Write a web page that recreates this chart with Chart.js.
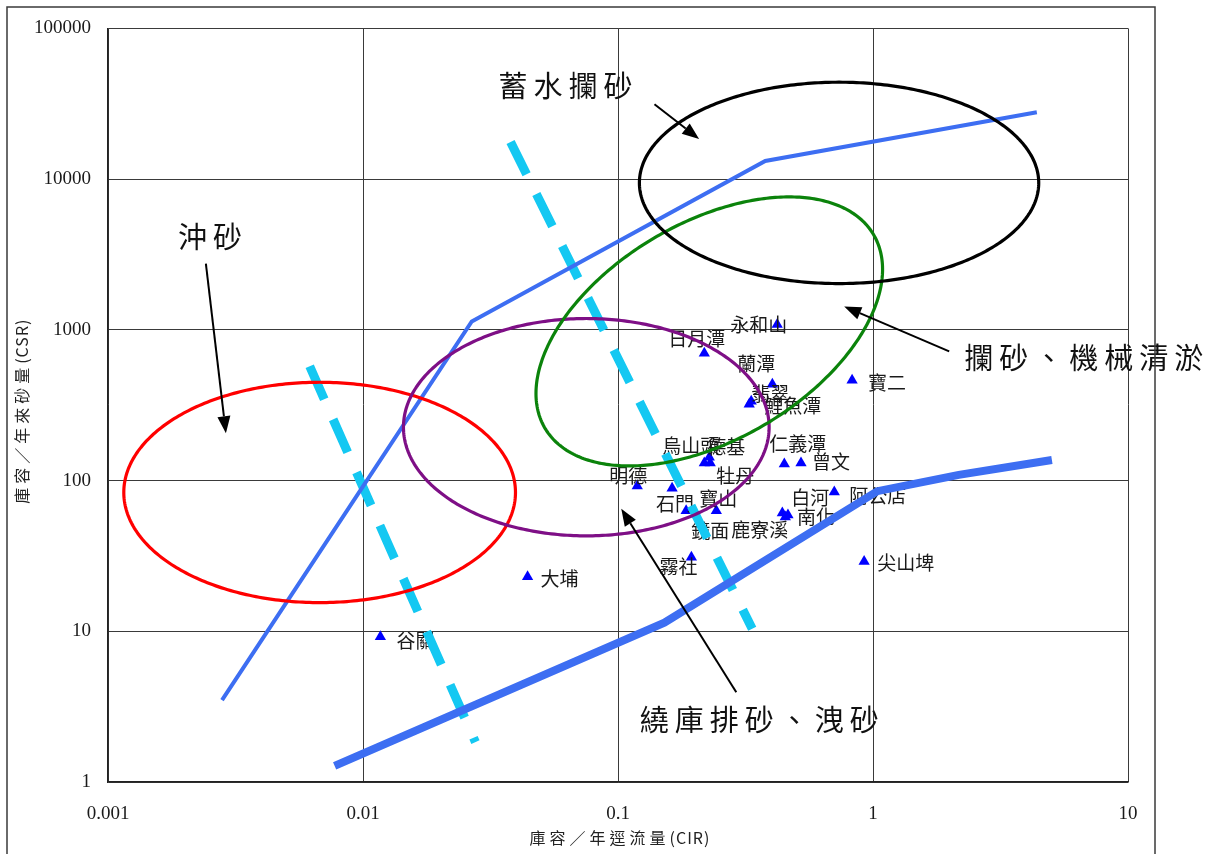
<!DOCTYPE html>
<html>
<head>
<meta charset="utf-8">
<script src="https://cdn.jsdelivr.net/npm/chart.js@4.4.0/dist/chart.umd.min.js"></script>
<style>
  html, body { margin: 0; padding: 0; background: #ffffff; }
  #wrap { width: 1219px; height: 854px; position: relative; }
</style>
</head>
<body>
<div id="wrap"><canvas id="c" width="1219" height="854"></canvas></div>
<script>
// Reservoirs: capacity / annual runoff (CIR) and capacity / annual sediment inflow (CSR)
const reservoirNames = ['谷關','大埔','明德','石門','鏡面','寶山','霧社','烏山頭','德基','牡丹','仁義潭','曾文','白河','南化','鹿寮溪','阿公店','尖山埤','寶二','日月潭','永和山','蘭潭','翡翠','鯉魚潭'];
const reservoirCIR  = [0.0117, 0.0442, 0.119, 0.163, 0.185, 0.243, 0.194, 0.218, 0.228, 0.230, 0.449, 0.522, 0.441, 0.464, 0.453, 0.705, 0.923, 0.828, 0.218, 0.421, 0.403, 0.333, 0.327];
const reservoirCSR  = [9.2, 23, 92, 89, 63, 63, 31, 131, 143, 131, 129, 131, 61, 59, 57.4, 84, 29, 463, 698, 1086, 435, 336, 321];

// Name placement relative to each marker (pixels: left edge, vertical centre)
const labelDx = [16, 13, -28, -16, 5, -17, -32, -42, -2, 6, -15, 11, 9, 9, -54, 15, 13, 16, -36, -47, -35, 0, 15];
const labelDy = [4, 2, -10, 16, 20, -12, 10, -17, -10, 13, -20, -1, -15, 2, 13, 4, 1, 3, -15, 0, -21, -7, 2];

// Axis ticks
const xTickValues = [0.001, 0.01, 0.1, 1, 10];
const xTickLabels = ['0.001', '0.01', '0.1', '1', '10'];
const yTickValues = [1, 10, 100, 1000, 10000, 100000];
const yTickLabels = ['1', '10', '100', '1000', '10000', '100000'];

// Envelope lines
const upperEnvX = [0.0028, 0.0267, 0.378, 4.39];
const upperEnvY = [3.49, 1137, 13190, 27800];
const lowerEnvX = [0.00774, 0.152, 1.04, 2.17, 5.03];
const lowerEnvY = [1.28, 11.4, 85, 109, 137];

// Dashed divider lines
const dividerAX = [0.00618, 0.0276];
const dividerAY = [573, 1.84];
const dividerBX = [0.0379, 0.336];
const dividerBY = [17600, 10.4];

// Strategy zones (ellipses): centre and two semi-axis vectors in decades (log10 units)
const zoneCenterX = [0.00676, 0.0751, 0.228, 0.736];
const zoneCenterY = [83.4, 226, 976, 9440];
const zoneAxisA   = [[0.768, 0], [0.717, 0], [0.644, 0.643], [0.783, 0]];
const zoneAxisB   = [[0, 0.731], [0, 0.721], [0.217, -0.619], [0, 0.668]];
const zoneColors  = ['#ff0000', '#7e0f86', '#0b830b', '#000000'];

// Callout texts and their arrows
const calloutTexts = ['沖砂', '繞庫排砂、洩砂', '攔砂、機械清淤', '蓄水攔砂'];
const calloutX     = [0.00251, 0.358, 6.71, 0.0622];
const calloutY     = [4150, 2.57, 647, 41300];
const arrowFromX   = [0.00242, 0.291, 1.99, 0.139];
const arrowFromY   = [2750, 3.94, 720, 31400];
const arrowToX     = [0.00290, 0.103, 0.771, 0.208];
const arrowToY     = [206, 64.9, 1428, 18450];

// Axis titles: spaced CJK part followed by the abbreviation
const xTitleParts = ['庫容／年逕流量', '(CIR)'];
const yTitleParts = ['庫容／年來砂量', '(CSR)'];

const CJK = '"Noto Sans CJK TC", "Noto Sans CJK JP", sans-serif';
const SERIF = '"Liberation Serif", "DejaVu Serif", serif';

const toPoints = (xs, ys) => xs.map((x, i) => ({ x: x, y: ys[i] }));

const labelPlugin = {
  id: 'reservoirLabels',
  afterDatasetDraw(chart, args) {
    if (args.index !== 0) return;
    const ctx = chart.ctx;
    const meta = chart.getDatasetMeta(0);
    ctx.save();
    ctx.font = '19px ' + CJK;
    ctx.fillStyle = '#1a1a1a';
    ctx.textAlign = 'left';
    ctx.textBaseline = 'middle';
    meta.data.forEach((el, i) => {
      ctx.fillText(reservoirNames[i], el.x + labelDx[i], el.y + labelDy[i]);
    });
    ctx.restore();
  }
};

function drawArrow(ctx, x1, y1, x2, y2) {
  const ang = Math.atan2(y2 - y1, x2 - x1);
  const len = 17, half = 6.5;
  const bx = x2 - Math.cos(ang) * len, by = y2 - Math.sin(ang) * len;
  ctx.beginPath();
  ctx.moveTo(x1, y1);
  ctx.lineTo(bx, by);
  ctx.stroke();
  ctx.beginPath();
  ctx.moveTo(x2, y2);
  ctx.lineTo(bx - Math.sin(ang) * half, by + Math.cos(ang) * half);
  ctx.lineTo(bx + Math.sin(ang) * half, by - Math.cos(ang) * half);
  ctx.closePath();
  ctx.fill();
}

// Draws a two-part title centred on (0,0): CJK with letter spacing, then the abbreviation
function drawTitle(ctx, parts) {
  ctx.letterSpacing = '4px';
  const w1 = ctx.measureText(parts[0]).width;
  ctx.letterSpacing = '1px';
  const w2 = ctx.measureText(parts[1]).width;
  const start = -(w1 + w2) / 2;
  ctx.textAlign = 'left';
  ctx.letterSpacing = '4px';
  ctx.fillText(parts[0], start, 0);
  ctx.letterSpacing = '1px';
  ctx.fillText(parts[1], start + w1, 0);
}

const overlayPlugin = {
  id: 'zonesAndCallouts',
  beforeDraw(chart) {
    const ctx = chart.ctx;
    ctx.save();
    ctx.fillStyle = '#ffffff';
    ctx.fillRect(0, 0, chart.width, chart.height);
    ctx.restore();
  },
  afterDatasetsDraw(chart) {
    const ctx = chart.ctx;
    const xs = chart.scales.x, ys = chart.scales.y;
    const px = v => xs.getPixelForValue(v);
    const py = v => ys.getPixelForValue(v);

    // zone ellipses, traced in log space through the scales
    ctx.save();
    ctx.lineWidth = 3.2;
    zoneCenterX.forEach((cx, k) => {
      const lx = Math.log10(cx), ly = Math.log10(zoneCenterY[k]);
      const A = zoneAxisA[k], B = zoneAxisB[k];
      ctx.strokeStyle = zoneColors[k];
      ctx.beginPath();
      for (let s = 0; s <= 360; s++) {
        const t = s * Math.PI / 180;
        const gx = Math.pow(10, lx + A[0] * Math.cos(t) + B[0] * Math.sin(t));
        const gy = Math.pow(10, ly + A[1] * Math.cos(t) + B[1] * Math.sin(t));
        if (s === 0) ctx.moveTo(px(gx), py(gy)); else ctx.lineTo(px(gx), py(gy));
      }
      ctx.closePath();
      ctx.stroke();
    });
    ctx.restore();

    // arrows
    ctx.save();
    ctx.strokeStyle = '#000000';
    ctx.fillStyle = '#000000';
    ctx.lineWidth = 2;
    arrowFromX.forEach((fx, k) => {
      drawArrow(ctx, px(fx), py(arrowFromY[k]), px(arrowToX[k]), py(arrowToY[k]));
    });
    ctx.restore();

    // callout texts
    ctx.save();
    ctx.font = '29px ' + CJK;
    ctx.fillStyle = '#111111';
    ctx.textAlign = 'center';
    ctx.textBaseline = 'middle';
    ctx.letterSpacing = '6px';
    calloutTexts.forEach((t, k) => {
      ctx.fillText(t, px(calloutX[k]) + 3, py(calloutY[k]));
    });
    ctx.restore();

    // axis titles
    ctx.save();
    ctx.font = '16px ' + CJK;
    ctx.fillStyle = '#222222';
    ctx.textBaseline = 'middle';
    const area = chart.chartArea;
    ctx.save();
    ctx.translate((area.left + area.right) / 2 + 2, 838);
    drawTitle(ctx, xTitleParts);
    ctx.restore();
    ctx.translate(22, (area.top + area.bottom) / 2 + 6);
    ctx.rotate(-Math.PI / 2);
    drawTitle(ctx, yTitleParts);
    ctx.restore();

    // outer frame
    ctx.save();
    ctx.strokeStyle = '#3a3a3a';
    ctx.lineWidth = 1.5;
    ctx.strokeRect(7, 7, 1148, 870);
    ctx.restore();
  }
};

new Chart(document.getElementById('c'), {
  data: {
    datasets: [
      {
        type: 'scatter',
        label: '水庫',
        data: toPoints(reservoirCIR, reservoirCSR),
        pointStyle: 'triangle',
        pointRadius: 6.5,
        backgroundColor: '#0000ff',
        borderColor: '#0000ff',
        borderWidth: 0,
        order: 10
      },
      {
        type: 'line',
        label: '上限',
        data: toPoints(upperEnvX, upperEnvY),
        borderColor: '#3d6ef2',
        borderWidth: 4,
        pointRadius: 0,
        tension: 0,
        fill: false,
        order: 2
      },
      {
        type: 'line',
        label: '下限',
        data: toPoints(lowerEnvX, lowerEnvY),
        borderColor: '#3d6ef2',
        borderWidth: 8,
        pointRadius: 0,
        tension: 0,
        fill: false,
        order: 1
      },
      {
        type: 'line',
        label: '分界A',
        data: toPoints(dividerAX, dividerAY),
        borderColor: '#14c8f2',
        borderWidth: 9,
        borderDash: [36, 22],
        borderCapStyle: 'butt',
        pointRadius: 0,
        fill: false,
        order: 3
      },
      {
        type: 'line',
        label: '分界B',
        data: toPoints(dividerBX, dividerBY),
        borderColor: '#14c8f2',
        borderWidth: 9,
        borderDash: [36, 22],
        borderCapStyle: 'butt',
        pointRadius: 0,
        fill: false,
        order: 3
      }
    ]
  },
  options: {
    responsive: false,
    animation: false,
    layout: { padding: { top: 26, right: 91, left: 0, bottom: 0 } },
    plugins: {
      legend: { display: false },
      tooltip: { enabled: false }
    },
    scales: {
      x: {
        type: 'logarithmic',
        position: 'bottom',
        min: 0.001,
        max: 10,
        afterBuildTicks: s => { s.ticks = xTickValues.map(v => ({ value: v })); },
        afterFit: s => { s.height = 72; },
        grid: { color: '#3a3a3a', lineWidth: 1, drawTicks: false },
        border: { display: true, color: '#222222', width: 1.5 },
        ticks: {
          padding: 21,
          maxRotation: 0,
          autoSkip: false,
          color: '#1a1a1a',
          font: { family: SERIF, size: 19 },
          callback: (v) => xTickLabels[xTickValues.indexOf(v)] ?? ''
        },
        title: { display: false }
      },
      y: {
        type: 'logarithmic',
        position: 'left',
        min: 1,
        max: 100000,
        afterBuildTicks: s => { s.ticks = yTickValues.map(v => ({ value: v })); },
        afterFit: s => { s.width = 108; },
        grid: { color: '#3a3a3a', lineWidth: 1, drawTicks: false },
        border: { display: true, color: '#222222', width: 1.5 },
        ticks: {
          padding: 17,
          autoSkip: false,
          color: '#1a1a1a',
          font: { family: SERIF, size: 19 },
          callback: (v) => yTickLabels[yTickValues.indexOf(v)] ?? ''
        },
        title: { display: false }
      }
    }
  },
  plugins: [labelPlugin, overlayPlugin]
});
</script>
</body>
</html>
